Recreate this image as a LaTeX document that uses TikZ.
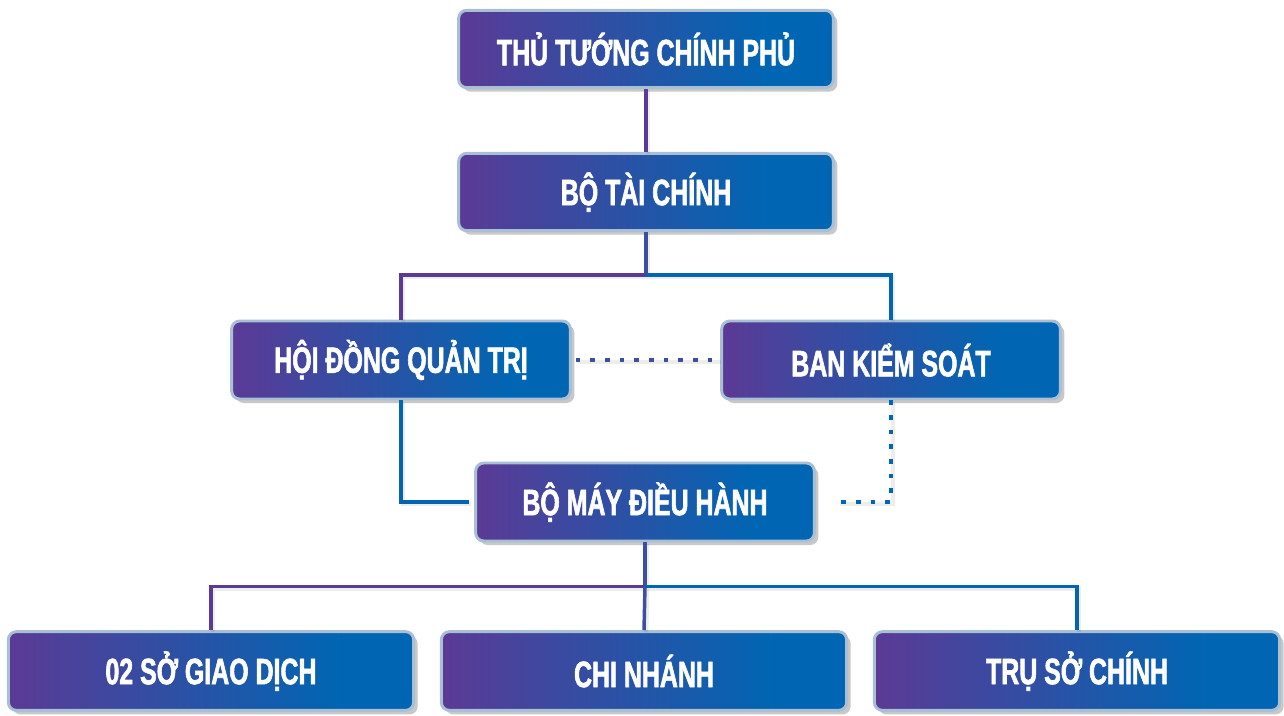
\documentclass[tikz,border=0pt]{standalone}
\usepackage{fontspec}
\setmainfont{Liberation Sans}
\newfontfamily\boxfont[FakeStretch=0.68,FakeBold=1.6]{Liberation Sans}
\usetikzlibrary{shadows,calc}
\definecolor{cpurple}{HTML}{5B3A96}
\definecolor{cblue}{HTML}{0066B3}
\definecolor{cmid}{HTML}{3D4FA3}
\definecolor{cborder}{HTML}{A9BFD4}
\pgfdeclarehorizontalshading{boxshade}{100bp}{color(0bp)=(cpurple); color(25bp)=(cpurple); color(66bp)=(cblue); color(100bp)=(cblue)}
\begin{document}
\begin{tikzpicture}[x=0.75pt,y=-0.75pt,
  box/.style={draw=cborder, line width=2.2pt, rounded corners=6pt, shading=boxshade,
    text=white, font=\boxfont\bfseries\fontsize{27.5}{30}\selectfont, inner sep=0pt,
    drop shadow={shadow xshift=3pt, shadow yshift=-3pt, opacity=0.3, fill=black!70}},
  bigbox/.style={box, minimum width=281pt, minimum height=58pt},
  midbox/.style={box, minimum width=254pt, minimum height=58.5pt},
  lowbox/.style={box, minimum width=304pt, minimum height=59pt},
  conn/.style={line width=2.6pt,
    preaction={draw=black, opacity=0.07, line width=3.5pt, transform canvas={xshift=1.5pt,yshift=-1.5pt}}},
  dconn/.style={conn, dash pattern=on 3.5pt off 7.5pt},
]
\useasboundingbox[fill=white] (0,0) rectangle (1284,715);

\node[bigbox] (b1) at (646,49) {THỦ TƯỚNG CHÍNH PHỦ};
\node[bigbox] (b2) at (646,192) {BỘ TÀI CHÍNH};
\node[midbox] (b3) at (401,360) {HỘI ĐỒNG QUẢN TRỊ};
\node[midbox] (b4) at (891,360) {BAN KIỂM SOÁT};
\node[midbox] (b5) at (645,502) {BỘ MÁY ĐIỀU HÀNH};
\node[lowbox] (b6) at (211,671) {02 SỞ GIAO DỊCH};
\node[lowbox] (b7) at (644,671) {CHI NHÁNH};
\node[lowbox] (b8) at (1077,671) {TRỤ SỞ CHÍNH};

% top
\draw[conn, cpurple] (b1.south) -- (b2.north);
\coordinate (j1) at ($(b2.south)+(0,43)$);
\draw[conn, cmid] (b2.south) -- (j1);
\draw[conn, cpurple] (j1) -| (b3.north);
\draw[conn, cblue] (j1) -| (b4.north);

% board -- supervisory (dashed)
\draw[dconn, cmid, shorten <=3pt, shorten >=1pt] (b3.east) -- (b4.west);

% board -> executive
\draw[conn, cblue, shorten >=4pt] (b3.south) |- (b5.west);

% supervisory -> executive (dashed)
\coordinate (e5) at ($(b5.east)+(22,0)$);
\draw[dconn, cblue] (b4.south) |- (e5);

% executive -> units
\coordinate (j2) at ($(b5.south)+(0,44)$);
\draw[conn, cmid] (b5.south) -- (j2);
\draw[conn, cpurple] (j2) -| (b6.north);
\draw[conn, cmid] (j2) -- (b7.north);
\draw[conn, cblue] (j2) -| (b8.north);
\end{tikzpicture}
\end{document}
